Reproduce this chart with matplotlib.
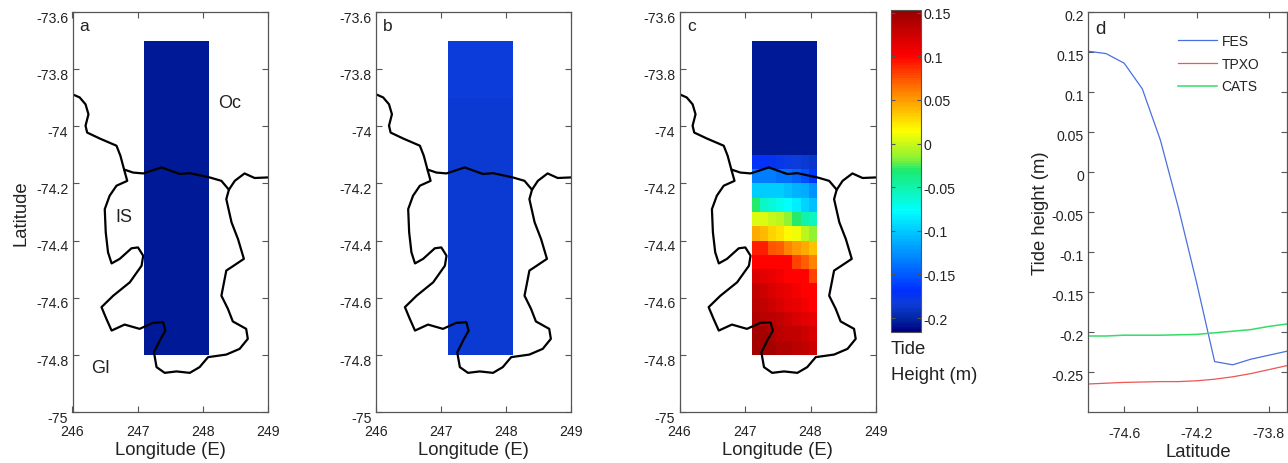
import numpy as np
import matplotlib
matplotlib.use("Agg")
import matplotlib.pyplot as plt
from matplotlib.cm import ScalarMappable
from matplotlib.colors import LinearSegmentedColormap, Normalize
from matplotlib.transforms import ScaledTranslation

plt.rcParams['font.family'] = ['Liberation Sans', 'DejaVu Sans']
plt.rcParams['axes.unicode_minus'] = False

W, H = 1288, 464
TXT = '#222222'
SPINE = '#555555'

coast_main_lon = [246.00,246.11,246.20,246.245,246.20,246.225,246.42,246.675,246.735,246.79,246.84,246.675,246.57,246.495,246.51,246.545,246.60,246.725,246.905,247.005,247.085,247.06,246.88,246.625,246.445,246.52,246.60,246.80,247.03,247.235,247.39,247.425,247.34,247.25,247.29,247.415,247.595,247.80,247.95,248.08,248.36,248.565,248.69,248.665,248.46,248.385,248.285,248.36,248.46,248.63,248.54,248.44,248.36,248.40]
coast_main_lat = [-73.888,-73.899,-73.923,-73.958,-73.998,-74.022,-74.043,-74.068,-74.103,-74.15,-74.191,-74.208,-74.243,-74.29,-74.371,-74.441,-74.48,-74.464,-74.427,-74.424,-74.453,-74.488,-74.546,-74.593,-74.633,-74.674,-74.715,-74.694,-74.709,-74.688,-74.686,-74.715,-74.75,-74.791,-74.843,-74.863,-74.858,-74.863,-74.843,-74.808,-74.799,-74.779,-74.744,-74.709,-74.683,-74.639,-74.593,-74.505,-74.49,-74.464,-74.395,-74.336,-74.255,-74.222]
coast_front_lon = [246.80,246.93,247.085,247.365,247.645,247.80,248.105,248.285,248.40,248.49,248.64,248.795,249.0]
coast_front_lat = [-74.152,-74.162,-74.165,-74.144,-74.167,-74.164,-74.179,-74.191,-74.222,-74.191,-74.165,-74.181,-74.179]

# rows from north (-73.7) to south (-74.8)
fes_grid = [
 [-0.205]*8,[-0.205]*8,[-0.205]*8,[-0.205]*8,[-0.205]*8,[-0.205]*8,[-0.205]*8,[-0.205]*8,
 [-0.170,-0.172,-0.175,-0.178,-0.180,-0.183,-0.187,-0.190],
 [-0.135,-0.135,-0.135,-0.140,-0.140,-0.145,-0.155,-0.165],
 [-0.100,-0.100,-0.100,-0.100,-0.105,-0.110,-0.115,-0.125],
 [-0.030,-0.060,-0.065,-0.070,-0.075,-0.085,-0.095,-0.105],
 [0.005,0.005,0.000,-0.005,-0.015,-0.030,-0.050,-0.055],
 [0.045,0.040,0.030,0.025,0.015,0.010,-0.005,-0.015],
 [0.090,0.090,0.075,0.070,0.060,0.050,0.045,0.035],
 [0.100,0.100,0.100,0.100,0.100,0.080,0.070,0.060],
 [0.120,0.115,0.110,0.105,0.100,0.100,0.100,0.080],
 [0.130,0.125,0.120,0.115,0.110,0.105,0.100,0.100],
 [0.135,0.130,0.125,0.120,0.115,0.110,0.105,0.100],
 [0.140,0.135,0.135,0.130,0.125,0.120,0.115,0.110],
 [0.145,0.145,0.140,0.135,0.130,0.130,0.125,0.120],
 [0.145,0.145,0.145,0.140,0.140,0.135,0.130,0.125],
]
tpxo_rows = [-0.183,-0.183,-0.183,-0.184,-0.185,-0.185,-0.185,-0.185,-0.185,-0.185,-0.186,-0.186,-0.186,-0.186,-0.186,-0.186,-0.186,-0.187,-0.187,-0.187,-0.187,-0.187]
cats_rows = [-0.205]*22

lat_line = [-74.8,-74.7,-74.6,-74.5,-74.4,-74.3,-74.2,-74.1,-74.0,-73.9,-73.8,-73.7]
fes_line = [0.151,0.148,0.136,0.104,0.040,-0.045,-0.138,-0.237,-0.241,-0.234,-0.229,-0.224]
tpxo_line = [-0.265,-0.264,-0.263,-0.2625,-0.262,-0.262,-0.261,-0.259,-0.256,-0.252,-0.247,-0.242]
cats_line = [-0.205,-0.205,-0.204,-0.204,-0.204,-0.2035,-0.203,-0.201,-0.199,-0.197,-0.193,-0.190]

lon_ticks = [246, 247, 248, 249]
lat_ticks = [-73.6,-73.8,-74,-74.2,-74.4,-74.6,-74.8,-75]
lat_ticklabels = ['-73.6','-73.8','-74','-74.2','-74.4','-74.6','-74.8','-75']
cbar_ticks = [0.15,0.1,0.05,0,-0.05,-0.1,-0.15,-0.2]
cbar_ticklabels = ['0.15','0.1','0.05','0','-0.05','-0.1','-0.15','-0.2']
d_yticks = [0.2,0.15,0.1,0.05,0,-0.05,-0.1,-0.15,-0.2,-0.25]
d_yticklabels = ['0.2','0.15','0.1','0.05','0','-0.05','-0.1','-0.15','-0.2','-0.25']
d_xticks = [-74.6,-74.2,-73.8]
d_xticklabels = ['-74.6','-74.2','-73.8']

cmap = LinearSegmentedColormap.from_list('jetish', [
    (0.00,(0.0,0.0,0.52)),(0.03,(0.0,0.13,0.61)),(0.085,(0.05,0.24,0.85)),
    (0.125,(0.0,0.18,1.0)),(0.375,(0.0,1.0,1.0)),(0.50,(0.1,0.92,0.45)),(0.54,(0.55,0.95,0.2)),
    (0.625,(1.0,1.0,0.0)),(0.75,(1.0,0.5,0.0)),(0.86,(1.0,0.0,0.0)),(1.0,(0.6,0.0,0.0))], N=128)
norm = Normalize(-0.216, 0.153)

fig = plt.figure(figsize=(W/100, H/100), dpi=100)

def box(l, r, t=13, b=413):
    return fig.add_axes([l/W, 1-b/H, (r-l)/W, (b-t)/H])

def style(ax, ly=3):
    ax.tick_params(direction='in', top=True, right=True, length=4, width=0.8,
                   color=SPINE, labelsize=10.2, labelcolor=TXT, pad=3)
    ax.tick_params(axis='x', pad=9)
    for s in ax.spines.values():
        s.set_color(SPINE); s.set_linewidth(0.9)
    off = ScaledTranslation(0, -ly/72, fig.dpi_scale_trans)
    for t in ax.get_yticklabels():
        t.set_transform(t.get_transform() + off)

def map_panel(left, right, grid, letter):
    ax = box(left, right)
    lon_edges = np.linspace(247.1, 248.1, len(grid[0]) + 1)
    lat_edges = np.linspace(-73.7, -74.8, len(grid) + 1)
    ax.pcolormesh(lon_edges, lat_edges, np.array(grid), cmap=cmap, norm=norm, shading='flat', rasterized=True)
    ax.plot(coast_main_lon, coast_main_lat, color='black', lw=1.6, solid_joinstyle='round')
    ax.plot(coast_front_lon, coast_front_lat, color='black', lw=1.6, solid_joinstyle='round')
    ax.set_xlim(246, 249); ax.set_ylim(-75, -73.6)
    ax.set_xticks(lon_ticks); ax.set_xticklabels([str(v) for v in lon_ticks])
    ax.set_yticks(lat_ticks); ax.set_yticklabels(lat_ticklabels)
    style(ax)
    ax.set_xlabel('Longitude (E)', fontsize=13.3, color=TXT, labelpad=1.5)
    ax.text(0.037, 0.985, letter, transform=ax.transAxes, fontsize=12.5, color=TXT, va='top', ha='left')
    return ax

ax_a = map_panel(72.5, 268, [[v]*8 for v in cats_rows], 'a')
ax_b = map_panel(376, 571, [[v]*8 for v in tpxo_rows], 'b')
ax_c = map_panel(679.5, 876, fes_grid, 'c')
ax_a.set_ylabel('Latitude', fontsize=13.3, color=TXT, labelpad=4.5)
ax_a.text(248.41, -73.915, 'Oc', fontsize=13, color=TXT, ha='center', va='center')
ax_a.text(246.79, -74.315, 'IS', fontsize=13, color=TXT, ha='center', va='center')
ax_a.text(246.43, -74.846, 'GI', fontsize=13, color=TXT, ha='center', va='center')

cax = fig.add_axes([891/W, 1-333/H, 30/W, 322/H])
cb = fig.colorbar(ScalarMappable(norm=norm, cmap=cmap), cax=cax)
cb.set_ticks(cbar_ticks); cb.set_ticklabels(cbar_ticklabels)
cax.tick_params(direction='in', length=3, width=0.8, color=SPINE, labelsize=10.2, labelcolor=TXT, pad=2, left=True)
cb.outline.set_edgecolor(SPINE); cb.outline.set_linewidth(0.8)
fig.text(891/W, 1-349/H, 'Tide', fontsize=13.3, color=TXT, va='center', ha='left')
fig.text(891/W, 1-376/H, 'Height (m)', fontsize=13.3, color=TXT, va='center', ha='left')

ax_d = box(1088, 1287)
ax_d.plot(lat_line, fes_line, color='#4a6fe0', lw=0.9, label='FES')
ax_d.plot(lat_line, tpxo_line, color='#ee5555', lw=0.9, label='TPXO')
ax_d.plot(lat_line, cats_line, color='#33dd66', lw=1.1, label='CATS')
ax_d.set_xlim(-74.8, -73.7); ax_d.set_ylim(-0.30, 0.20)
ax_d.set_xticks(d_xticks); ax_d.set_xticklabels(d_xticklabels)
ax_d.set_yticks(d_yticks); ax_d.set_yticklabels(d_yticklabels)
style(ax_d, ly=2)
ax_d.tick_params(axis='x', pad=10)
ax_d.set_xlabel('Latitude', fontsize=13.3, color=TXT, labelpad=2, x=0.553)
ax_d.set_ylabel('Tide height (m)', fontsize=13.3, color=TXT, labelpad=2)
ax_d.text(0.035, 0.98, 'd', transform=ax_d.transAxes, fontsize=13.5, color=TXT, va='top', ha='left')
ax_d.legend(loc='upper left', bbox_to_anchor=(0.43, 0.955), frameon=False, fontsize=10,
            labelspacing=0.62, handlelength=2.8, handletextpad=0.35, borderpad=0.3, borderaxespad=0,
            labelcolor=TXT)

fig.savefig('out.png', dpi=100)
